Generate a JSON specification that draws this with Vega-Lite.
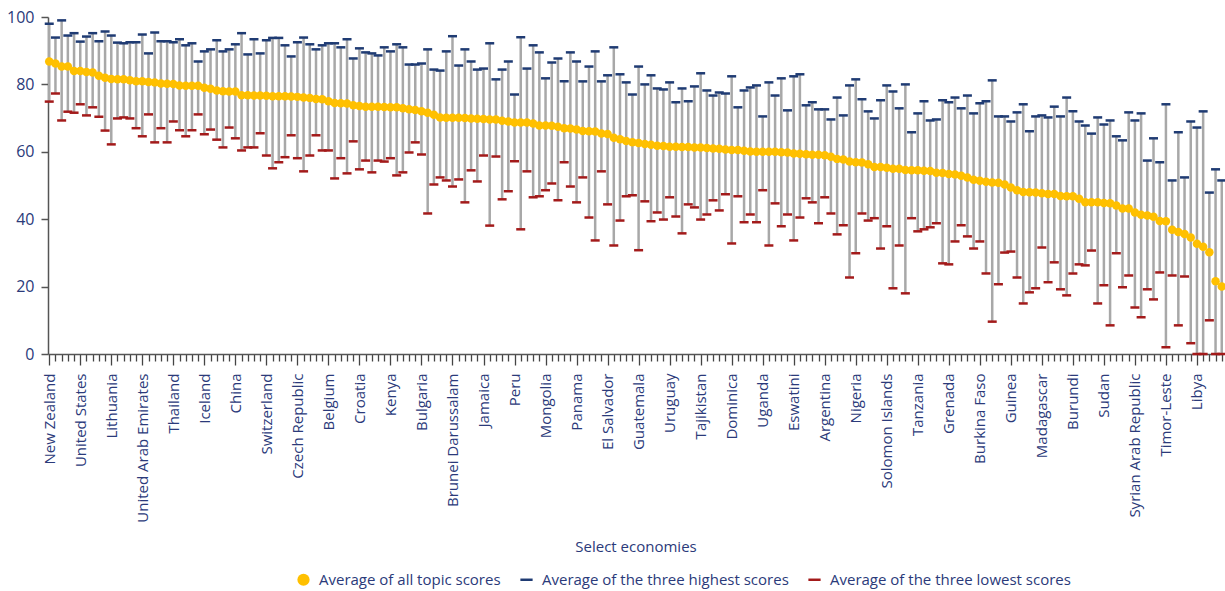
{
  "$schema": "https://vega.github.io/schema/vega-lite/v6.json",
  "width": 1175,
  "height": 337,
  "autosize": {"type": "none"},
  "padding": {"left": 48, "top": 17, "right": 2, "bottom": 237},
  "background": "white",
  "config": {"view": {"stroke": null}, "font": "Open Sans"},
  "data": {"values": [
    {"rank": 1, "name": "New Zealand", "avg": 86.8, "high": 98.0, "low": 74.9},
    {"rank": 2, "name": "Singapore", "avg": 86.2, "high": 93.9, "low": 77.3},
    {"rank": 3, "name": "Hong Kong SAR, China", "avg": 85.3, "high": 99.0, "low": 69.3},
    {"rank": 4, "name": "Denmark", "avg": 85.3, "high": 94.5, "low": 71.9},
    {"rank": 5, "name": "Korea, Rep.", "avg": 84.0, "high": 95.2, "low": 71.6},
    {"rank": 6, "name": "United States", "avg": 84.0, "high": 92.7, "low": 74.1},
    {"rank": 7, "name": "Georgia", "avg": 83.7, "high": 94.2, "low": 70.8},
    {"rank": 8, "name": "United Kingdom", "avg": 83.5, "high": 95.2, "low": 73.2},
    {"rank": 9, "name": "Norway", "avg": 82.6, "high": 92.8, "low": 70.4},
    {"rank": 10, "name": "Sweden", "avg": 82.0, "high": 95.7, "low": 66.3},
    {"rank": 11, "name": "Lithuania", "avg": 81.6, "high": 94.5, "low": 62.2},
    {"rank": 12, "name": "Malaysia", "avg": 81.5, "high": 92.4, "low": 69.9},
    {"rank": 13, "name": "Mauritius", "avg": 81.5, "high": 92.2, "low": 70.2},
    {"rank": 14, "name": "Australia", "avg": 81.2, "high": 92.5, "low": 69.9},
    {"rank": 15, "name": "Taiwan, China", "avg": 80.9, "high": 92.5, "low": 67.0},
    {"rank": 16, "name": "United Arab Emirates", "avg": 80.9, "high": 94.8, "low": 64.6},
    {"rank": 17, "name": "North Macedonia", "avg": 80.7, "high": 89.2, "low": 71.1},
    {"rank": 18, "name": "Estonia", "avg": 80.6, "high": 95.4, "low": 62.8},
    {"rank": 19, "name": "Latvia", "avg": 80.3, "high": 92.8, "low": 67.0},
    {"rank": 20, "name": "Finland", "avg": 80.2, "high": 92.8, "low": 62.8},
    {"rank": 21, "name": "Thailand", "avg": 80.1, "high": 92.5, "low": 69.0},
    {"rank": 22, "name": "Germany", "avg": 79.7, "high": 93.4, "low": 66.4},
    {"rank": 23, "name": "Canada", "avg": 79.6, "high": 91.6, "low": 64.6},
    {"rank": 24, "name": "Ireland", "avg": 79.6, "high": 92.2, "low": 66.4},
    {"rank": 25, "name": "Kazakhstan", "avg": 79.6, "high": 86.8, "low": 71.1},
    {"rank": 26, "name": "Iceland", "avg": 79.0, "high": 89.8, "low": 65.2},
    {"rank": 27, "name": "Austria", "avg": 78.7, "high": 90.4, "low": 66.6},
    {"rank": 28, "name": "Russian Federation", "avg": 78.2, "high": 93.1, "low": 63.6},
    {"rank": 29, "name": "Japan", "avg": 78.0, "high": 89.8, "low": 61.3},
    {"rank": 30, "name": "Spain", "avg": 77.9, "high": 90.4, "low": 67.2},
    {"rank": 31, "name": "China", "avg": 77.9, "high": 91.9, "low": 64.0},
    {"rank": 32, "name": "France", "avg": 76.8, "high": 95.2, "low": 60.4},
    {"rank": 33, "name": "Turkey", "avg": 76.8, "high": 88.9, "low": 61.3},
    {"rank": 34, "name": "Azerbaijan", "avg": 76.7, "high": 93.4, "low": 61.3},
    {"rank": 35, "name": "Israel", "avg": 76.7, "high": 89.2, "low": 65.5},
    {"rank": 36, "name": "Switzerland", "avg": 76.6, "high": 93.1, "low": 58.9},
    {"rank": 37, "name": "Slovenia", "avg": 76.5, "high": 93.8, "low": 55.1},
    {"rank": 38, "name": "Rwanda", "avg": 76.5, "high": 93.8, "low": 56.9},
    {"rank": 39, "name": "Portugal", "avg": 76.5, "high": 91.6, "low": 58.4},
    {"rank": 40, "name": "Poland", "avg": 76.4, "high": 88.3, "low": 64.9},
    {"rank": 41, "name": "Czech Republic", "avg": 76.3, "high": 92.5, "low": 58.1},
    {"rank": 42, "name": "Netherlands", "avg": 76.1, "high": 93.9, "low": 54.2},
    {"rank": 43, "name": "Bahrain", "avg": 76.0, "high": 91.9, "low": 58.9},
    {"rank": 44, "name": "Serbia", "avg": 75.7, "high": 90.4, "low": 64.9},
    {"rank": 45, "name": "Slovak Republic", "avg": 75.6, "high": 91.6, "low": 60.4},
    {"rank": 46, "name": "Belgium", "avg": 75.0, "high": 92.2, "low": 60.4},
    {"rank": 47, "name": "Armenia", "avg": 74.5, "high": 92.2, "low": 52.1},
    {"rank": 48, "name": "Moldova", "avg": 74.4, "high": 91.0, "low": 58.1},
    {"rank": 49, "name": "Belarus", "avg": 74.3, "high": 93.4, "low": 53.6},
    {"rank": 50, "name": "Montenegro", "avg": 73.8, "high": 87.7, "low": 63.1},
    {"rank": 51, "name": "Croatia", "avg": 73.6, "high": 90.7, "low": 54.8},
    {"rank": 52, "name": "Hungary", "avg": 73.4, "high": 89.5, "low": 57.4},
    {"rank": 53, "name": "Morocco", "avg": 73.4, "high": 89.2, "low": 53.9},
    {"rank": 54, "name": "Cyprus", "avg": 73.4, "high": 88.6, "low": 57.4},
    {"rank": 55, "name": "Romania", "avg": 73.3, "high": 91.0, "low": 57.1},
    {"rank": 56, "name": "Kenya", "avg": 73.2, "high": 89.8, "low": 58.1},
    {"rank": 57, "name": "Kosovo", "avg": 73.2, "high": 91.9, "low": 53.0},
    {"rank": 58, "name": "Italy", "avg": 72.9, "high": 91.0, "low": 53.9},
    {"rank": 59, "name": "Chile", "avg": 72.6, "high": 85.9, "low": 59.8},
    {"rank": 60, "name": "Mexico", "avg": 72.4, "high": 85.9, "low": 62.8},
    {"rank": 61, "name": "Bulgaria", "avg": 72.0, "high": 86.2, "low": 59.2},
    {"rank": 62, "name": "Saudi Arabia", "avg": 71.6, "high": 90.4, "low": 41.7},
    {"rank": 63, "name": "India", "avg": 71.0, "high": 84.4, "low": 50.3},
    {"rank": 64, "name": "Ukraine", "avg": 70.2, "high": 84.1, "low": 52.4},
    {"rank": 65, "name": "Puerto Rico", "avg": 70.1, "high": 89.8, "low": 51.5},
    {"rank": 66, "name": "Brunei Darussalam", "avg": 70.1, "high": 94.3, "low": 49.7},
    {"rank": 67, "name": "Colombia", "avg": 70.1, "high": 85.6, "low": 51.8},
    {"rank": 68, "name": "Oman", "avg": 70.0, "high": 90.4, "low": 45.0},
    {"rank": 69, "name": "Uzbekistan", "avg": 69.9, "high": 86.8, "low": 54.5},
    {"rank": 70, "name": "Vietnam", "avg": 69.8, "high": 84.4, "low": 51.2},
    {"rank": 71, "name": "Jamaica", "avg": 69.7, "high": 84.7, "low": 58.9},
    {"rank": 72, "name": "Luxembourg", "avg": 69.6, "high": 92.2, "low": 38.1},
    {"rank": 73, "name": "Indonesia", "avg": 69.6, "high": 81.5, "low": 58.6},
    {"rank": 74, "name": "Costa Rica", "avg": 69.2, "high": 84.4, "low": 45.9},
    {"rank": 75, "name": "Jordan", "avg": 69.0, "high": 86.8, "low": 48.3},
    {"rank": 76, "name": "Peru", "avg": 68.7, "high": 77.0, "low": 57.2},
    {"rank": 77, "name": "Qatar", "avg": 68.7, "high": 94.0, "low": 37.0},
    {"rank": 78, "name": "Tunisia", "avg": 68.7, "high": 84.7, "low": 54.2},
    {"rank": 79, "name": "Greece", "avg": 68.4, "high": 91.6, "low": 46.5},
    {"rank": 80, "name": "Kyrgyz Republic", "avg": 67.8, "high": 89.5, "low": 46.8},
    {"rank": 81, "name": "Mongolia", "avg": 67.8, "high": 81.8, "low": 48.6},
    {"rank": 82, "name": "Albania", "avg": 67.7, "high": 86.5, "low": 50.6},
    {"rank": 83, "name": "Kuwait", "avg": 67.4, "high": 87.7, "low": 45.6},
    {"rank": 84, "name": "South Africa", "avg": 67.0, "high": 80.9, "low": 56.9},
    {"rank": 85, "name": "Zambia", "avg": 66.9, "high": 89.5, "low": 49.7},
    {"rank": 86, "name": "Panama", "avg": 66.6, "high": 86.8, "low": 45.0},
    {"rank": 87, "name": "Botswana", "avg": 66.2, "high": 80.9, "low": 52.4},
    {"rank": 88, "name": "Malta", "avg": 66.1, "high": 85.3, "low": 40.5},
    {"rank": 89, "name": "Bhutan", "avg": 66.0, "high": 89.8, "low": 33.7},
    {"rank": 90, "name": "Bosnia and Herzegovina", "avg": 65.4, "high": 80.9, "low": 54.2},
    {"rank": 91, "name": "El Salvador", "avg": 65.3, "high": 82.7, "low": 44.4},
    {"rank": 92, "name": "San Marino", "avg": 64.2, "high": 91.0, "low": 32.2},
    {"rank": 93, "name": "St. Lucia", "avg": 63.7, "high": 83.0, "low": 39.6},
    {"rank": 94, "name": "Nepal", "avg": 63.2, "high": 80.6, "low": 46.8},
    {"rank": 95, "name": "Philippines", "avg": 62.8, "high": 77.0, "low": 47.1},
    {"rank": 96, "name": "Guatemala", "avg": 62.6, "high": 85.3, "low": 30.8},
    {"rank": 97, "name": "Togo", "avg": 62.3, "high": 80.0, "low": 45.3},
    {"rank": 98, "name": "Samoa", "avg": 62.1, "high": 82.7, "low": 39.4},
    {"rank": 99, "name": "Sri Lanka", "avg": 61.8, "high": 78.8, "low": 42.0},
    {"rank": 100, "name": "Seychelles", "avg": 61.7, "high": 78.5, "low": 39.9},
    {"rank": 101, "name": "Uruguay", "avg": 61.5, "high": 80.6, "low": 46.5},
    {"rank": 102, "name": "Fiji", "avg": 61.5, "high": 74.7, "low": 40.8},
    {"rank": 103, "name": "Tonga", "avg": 61.4, "high": 78.8, "low": 35.8},
    {"rank": 104, "name": "Namibia", "avg": 61.4, "high": 75.0, "low": 44.4},
    {"rank": 105, "name": "Trinidad and Tobago", "avg": 61.3, "high": 79.4, "low": 43.5},
    {"rank": 106, "name": "Tajikistan", "avg": 61.3, "high": 83.3, "low": 39.9},
    {"rank": 107, "name": "Vanuatu", "avg": 61.1, "high": 78.2, "low": 41.4},
    {"rank": 108, "name": "Pakistan", "avg": 61.0, "high": 76.7, "low": 45.6},
    {"rank": 109, "name": "Malawi", "avg": 60.9, "high": 77.6, "low": 42.6},
    {"rank": 110, "name": "Côte d'Ivoire", "avg": 60.7, "high": 77.3, "low": 47.4},
    {"rank": 111, "name": "Dominica", "avg": 60.5, "high": 82.4, "low": 32.8},
    {"rank": 112, "name": "Djibouti", "avg": 60.5, "high": 73.2, "low": 46.8},
    {"rank": 113, "name": "Antigua and Barbuda", "avg": 60.3, "high": 78.2, "low": 39.1},
    {"rank": 114, "name": "Egypt, Arab Rep.", "avg": 60.1, "high": 79.1, "low": 41.4},
    {"rank": 115, "name": "Dominican Republic", "avg": 60.0, "high": 79.7, "low": 39.1},
    {"rank": 116, "name": "Uganda", "avg": 60.0, "high": 70.5, "low": 48.6},
    {"rank": 117, "name": "West Bank and Gaza", "avg": 60.0, "high": 80.6, "low": 32.2},
    {"rank": 118, "name": "Ghana", "avg": 60.0, "high": 76.7, "low": 44.7},
    {"rank": 119, "name": "Bahamas, The", "avg": 59.9, "high": 81.8, "low": 37.9},
    {"rank": 120, "name": "Papua New Guinea", "avg": 59.8, "high": 72.3, "low": 41.4},
    {"rank": 121, "name": "Eswatini", "avg": 59.5, "high": 82.4, "low": 33.7},
    {"rank": 122, "name": "Lesotho", "avg": 59.4, "high": 83.0, "low": 40.5},
    {"rank": 123, "name": "Senegal", "avg": 59.3, "high": 73.8, "low": 46.2},
    {"rank": 124, "name": "Brazil", "avg": 59.1, "high": 74.7, "low": 45.0},
    {"rank": 125, "name": "Paraguay", "avg": 59.1, "high": 72.6, "low": 38.8},
    {"rank": 126, "name": "Argentina", "avg": 59.0, "high": 72.6, "low": 46.5},
    {"rank": 127, "name": "Iran, Islamic Rep.", "avg": 58.5, "high": 69.6, "low": 41.7},
    {"rank": 128, "name": "Barbados", "avg": 57.9, "high": 76.1, "low": 35.5},
    {"rank": 129, "name": "Ecuador", "avg": 57.7, "high": 70.8, "low": 38.2},
    {"rank": 130, "name": "St. Vincent and the Grenadines", "avg": 57.1, "high": 79.7, "low": 22.7},
    {"rank": 131, "name": "Nigeria", "avg": 56.9, "high": 81.5, "low": 29.9},
    {"rank": 132, "name": "Niger", "avg": 56.8, "high": 75.6, "low": 41.7},
    {"rank": 133, "name": "Honduras", "avg": 56.3, "high": 72.0, "low": 39.6},
    {"rank": 134, "name": "Guyana", "avg": 55.5, "high": 69.9, "low": 40.3},
    {"rank": 135, "name": "Belize", "avg": 55.5, "high": 75.3, "low": 31.3},
    {"rank": 136, "name": "Solomon Islands", "avg": 55.3, "high": 79.7, "low": 37.9},
    {"rank": 137, "name": "Cabo Verde", "avg": 55.0, "high": 77.9, "low": 19.5},
    {"rank": 138, "name": "Mozambique", "avg": 55.0, "high": 72.9, "low": 32.2},
    {"rank": 139, "name": "St. Kitts and Nevis", "avg": 54.6, "high": 80.0, "low": 18.0},
    {"rank": 140, "name": "Zimbabwe", "avg": 54.5, "high": 65.8, "low": 40.3},
    {"rank": 141, "name": "Tanzania", "avg": 54.5, "high": 71.4, "low": 36.4},
    {"rank": 142, "name": "Nicaragua", "avg": 54.4, "high": 75.0, "low": 37.0},
    {"rank": 143, "name": "Lebanon", "avg": 54.3, "high": 69.3, "low": 37.6},
    {"rank": 144, "name": "Cambodia", "avg": 53.8, "high": 69.6, "low": 38.8},
    {"rank": 145, "name": "Palau", "avg": 53.7, "high": 75.3, "low": 26.9},
    {"rank": 146, "name": "Grenada", "avg": 53.4, "high": 74.7, "low": 26.6},
    {"rank": 147, "name": "Maldives", "avg": 53.3, "high": 76.1, "low": 33.4},
    {"rank": 148, "name": "Mali", "avg": 52.9, "high": 72.9, "low": 38.2},
    {"rank": 149, "name": "Benin", "avg": 52.4, "high": 76.7, "low": 34.9},
    {"rank": 150, "name": "Bolivia", "avg": 51.7, "high": 71.4, "low": 31.3},
    {"rank": 151, "name": "Burkina Faso", "avg": 51.4, "high": 74.4, "low": 33.4},
    {"rank": 152, "name": "Mauritania", "avg": 51.1, "high": 75.0, "low": 23.9},
    {"rank": 153, "name": "Marshall Islands", "avg": 50.9, "high": 81.2, "low": 9.6},
    {"rank": 154, "name": "Lao PDR", "avg": 50.8, "high": 70.5, "low": 20.7},
    {"rank": 155, "name": "Gambia, The", "avg": 50.3, "high": 70.5, "low": 30.1},
    {"rank": 156, "name": "Guinea", "avg": 49.4, "high": 69.0, "low": 30.4},
    {"rank": 157, "name": "Algeria", "avg": 48.6, "high": 71.7, "low": 22.7},
    {"rank": 158, "name": "Micronesia, Fed. Sts.", "avg": 48.1, "high": 74.1, "low": 15.0},
    {"rank": 159, "name": "Ethiopia", "avg": 48.0, "high": 66.1, "low": 18.3},
    {"rank": 160, "name": "Comoros", "avg": 47.9, "high": 70.5, "low": 19.5},
    {"rank": 161, "name": "Madagascar", "avg": 47.7, "high": 70.8, "low": 31.6},
    {"rank": 162, "name": "Suriname", "avg": 47.5, "high": 70.2, "low": 21.3},
    {"rank": 163, "name": "Sierra Leone", "avg": 47.5, "high": 73.4, "low": 27.2},
    {"rank": 164, "name": "Kiribati", "avg": 46.9, "high": 70.5, "low": 19.2},
    {"rank": 165, "name": "Myanmar", "avg": 46.8, "high": 76.1, "low": 17.4},
    {"rank": 166, "name": "Burundi", "avg": 46.8, "high": 72.0, "low": 23.9},
    {"rank": 167, "name": "Cameroon", "avg": 46.1, "high": 69.0, "low": 26.6},
    {"rank": 168, "name": "Bangladesh", "avg": 45.0, "high": 67.8, "low": 26.3},
    {"rank": 169, "name": "Gabon", "avg": 45.0, "high": 65.4, "low": 30.7},
    {"rank": 170, "name": "São Tomé and Príncipe", "avg": 45.0, "high": 70.2, "low": 15.0},
    {"rank": 171, "name": "Sudan", "avg": 44.8, "high": 68.1, "low": 20.4},
    {"rank": 172, "name": "Iraq", "avg": 44.7, "high": 69.3, "low": 8.5},
    {"rank": 173, "name": "Afghanistan", "avg": 44.1, "high": 64.6, "low": 29.9},
    {"rank": 174, "name": "Guinea-Bissau", "avg": 43.2, "high": 63.4, "low": 19.8},
    {"rank": 175, "name": "Liberia", "avg": 43.2, "high": 71.7, "low": 23.3},
    {"rank": 176, "name": "Syrian Arab Republic", "avg": 42.0, "high": 69.3, "low": 13.8},
    {"rank": 177, "name": "Angola", "avg": 41.3, "high": 71.4, "low": 10.9},
    {"rank": 178, "name": "Equatorial Guinea", "avg": 41.1, "high": 57.4, "low": 19.2},
    {"rank": 179, "name": "Haiti", "avg": 40.7, "high": 64.0, "low": 16.2},
    {"rank": 180, "name": "Congo, Rep.", "avg": 39.5, "high": 56.9, "low": 24.2},
    {"rank": 181, "name": "Timor-Leste", "avg": 39.4, "high": 74.1, "low": 2.0},
    {"rank": 182, "name": "Chad", "avg": 36.9, "high": 51.5, "low": 23.3},
    {"rank": 183, "name": "Congo, Dem. Rep.", "avg": 36.2, "high": 65.8, "low": 8.5},
    {"rank": 184, "name": "Central African Republic", "avg": 35.6, "high": 52.4, "low": 23.0},
    {"rank": 185, "name": "South Sudan", "avg": 34.6, "high": 69.0, "low": 3.2},
    {"rank": 186, "name": "Libya", "avg": 32.7, "high": 67.2, "low": 0.0},
    {"rank": 187, "name": "Yemen, Rep.", "avg": 31.8, "high": 72.0, "low": 0.0},
    {"rank": 188, "name": "Venezuela, RB", "avg": 30.2, "high": 47.9, "low": 10.0},
    {"rank": 189, "name": "Eritrea", "avg": 21.6, "high": 54.8, "low": 0.0},
    {"rank": 190, "name": "Somalia", "avg": 20.0, "high": 51.5, "low": 0.0}
  ]},
  "encoding": {
    "x": {
      "field": "name",
      "type": "nominal",
      "sort": {"field": "rank", "op": "min"},
      "scale": {"type": "point", "padding": 0.2},
      "axis": {
        "title": "Select economies",
        "titleColor": "#2B3A7A",
        "titleFontSize": 15,
        "titleFontWeight": "normal",
        "titleY": 192,
        "titleBaseline": "middle",
        "labelAngle": -90,
        "labelFontSize": 15,
        "labelColor": "#2B3A7A",
        "labelExpr": "round(datum.index * 189) % 5 == 0 ? datum.label : ''",
        "labelPadding": 8,
        "labelOverlap": false,
        "labelLimit": 300,
        "labelBound": false,
        "tickColor": "#444444",
        "tickWidth": 1.3,
        "tickSize": {"condition": {"test": "round(datum.index * 189) % 5 == 0", "value": 11}, "value": 7},
        "domainColor": "#555555",
        "domainWidth": 1.5,
        "grid": false
      }
    }
  },
  "layer": [
    {
      "mark": {"type": "rule", "color": "#A8A8A8", "strokeWidth": 2.5},
      "encoding": {
        "y": {
          "field": "low",
          "type": "quantitative",
          "scale": {"domain": [0, 100]},
          "axis": {
            "title": null,
            "values": [0, 20, 40, 60, 80, 100],
            "grid": false,
            "domainColor": "#555555",
            "domainWidth": 1.5,
            "tickColor": "#555555",
            "tickWidth": 1.5,
            "tickSize": 7,
            "labelFontSize": 16,
            "labelColor": "#2B3A7A",
            "labelPadding": 7
          }
        },
        "y2": {"field": "high"}
      }
    },
    {
      "transform": [{"fold": ["high", "low"], "as": ["series", "score"]}],
      "mark": {"type": "tick", "size": 9, "thickness": 2.5, "opacity": 1},
      "encoding": {
        "y": {"field": "score", "type": "quantitative", "title": null},
        "color": {
          "field": "series",
          "type": "nominal",
          "scale": {"domain": ["avg", "high", "low"], "range": ["#FFC000", "#1F3B73", "#A31A1A"]},
          "legend": {
            "title": null,
            "orient": "none",
            "legendX": 248,
            "legendY": 555,
            "direction": "horizontal",
            "labelExpr": "datum.value == 'avg' ? 'Average of all topic scores' : datum.value == 'high' ? 'Average of the three highest scores' : 'Average of the three lowest scores'",
            "labelFontSize": 15,
            "labelColor": "#2B3A7A",
            "labelLimit": 400,
            "symbolSize": 150,
            "symbolStrokeWidth": 0,
            "columnPadding": 18,
            "labelOffset": 8
          }
        }
      }
    },
    {
      "transform": [{"fold": ["avg"], "as": ["series", "score"]}],
      "mark": {"type": "point", "filled": true, "size": 72, "opacity": 1},
      "encoding": {
        "y": {"field": "score", "type": "quantitative", "title": null},
        "color": {
          "field": "series",
          "type": "nominal",
          "legend": {
            "title": null,
            "orient": "none",
            "legendX": 248,
            "legendY": 555,
            "direction": "horizontal",
            "labelExpr": "datum.value == 'avg' ? 'Average of all topic scores' : datum.value == 'high' ? 'Average of the three highest scores' : 'Average of the three lowest scores'",
            "labelFontSize": 15,
            "labelColor": "#2B3A7A",
            "labelLimit": 400,
            "symbolSize": 150,
            "symbolStrokeWidth": 0,
            "columnPadding": 18,
            "labelOffset": 8
          }
        },
        "shape": {
          "field": "series",
          "type": "nominal",
          "scale": {"domain": ["avg", "high", "low"], "range": ["circle", "M-1,-0.2H1V0.2H-1Z", "M-1,-0.2H1V0.2H-1Z"]},
          "legend": {
            "title": null,
            "orient": "none",
            "legendX": 248,
            "legendY": 555,
            "direction": "horizontal",
            "labelExpr": "datum.value == 'avg' ? 'Average of all topic scores' : datum.value == 'high' ? 'Average of the three highest scores' : 'Average of the three lowest scores'",
            "labelFontSize": 15,
            "labelColor": "#2B3A7A",
            "labelLimit": 400,
            "symbolSize": 150,
            "symbolStrokeWidth": 0,
            "columnPadding": 18,
            "labelOffset": 8
          }
        }
      }
    }
  ]
}
